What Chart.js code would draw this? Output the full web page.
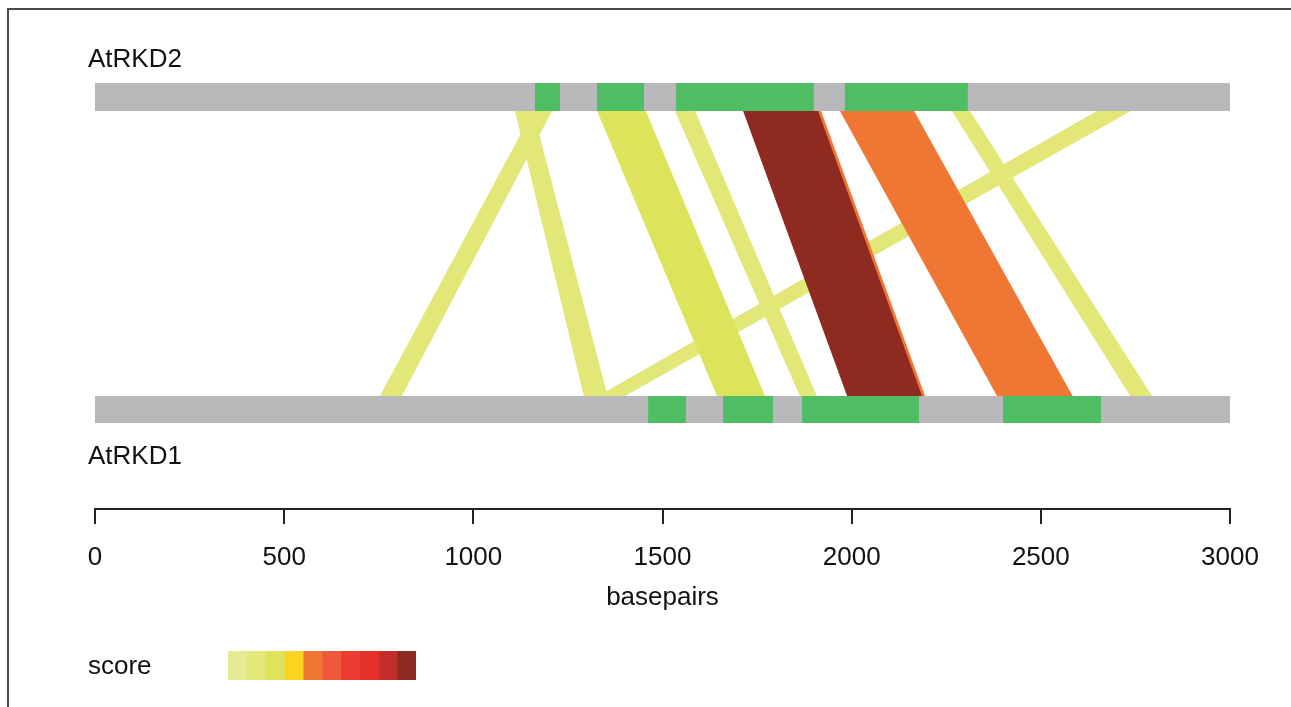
<!DOCTYPE html>
<html>
<head>
<meta charset="utf-8">
<script src="https://cdn.jsdelivr.net/npm/chart.js@4/dist/chart.umd.min.js"></script>
<style>
  body { margin: 0; background: #fff; }
  #wrap { position: relative; width: 1291px; height: 707px; overflow: hidden; background: #fff;
          font-family: "Liberation Sans", Arial, sans-serif; color: #111; }
  #frame { position: absolute; left: 7px; top: 8px; width: 1400px; height: 800px;
           border-left: 2px solid #4a4a4a; border-top: 2px solid #4a4a4a; }
  .lbl { position: absolute; font-size: 26px; line-height: 26px; white-space: nowrap; }
  #main { position: absolute; left: 0; top: 0; }
  #scale { position: absolute; left: 228px; top: 651px; }
</style>
</head>
<body>
<div id="wrap">
  <div id="frame"></div>
  <canvas id="main" width="1291" height="707"></canvas>
  <div class="lbl" id="nameTop" style="left:88px; top:45px;"></div>
  <div class="lbl" id="nameBottom" style="left:88px; top:442px;"></div>
  <div class="lbl" style="left:88px; top:652px;">score</div>
  <canvas id="scale" width="188" height="29"></canvas>
</div>
<script>
// sequences
const trackNames = ['AtRKD2', 'AtRKD1'];
const trackLength = 3000;
const xTicks = [0, 500, 1000, 1500, 2000, 2500, 3000];

// green blocks on each sequence (bp)
const topBlockStart = [1163, 1327, 1536, 1982];
const topBlockEnd = [1229, 1451, 1900, 2307];
const bottomBlockStart = [1462, 1660, 1869, 2400];
const bottomBlockEnd = [1562, 1792, 2178, 2659];

// matches between AtRKD2 (top) and AtRKD1 (bottom), drawn in this order
const bandTopStart = [2648, 1158, 1110, 1533, 1327, 2265, 1895, 1713, 1969];
const bandTopEnd = [2738, 1208, 1158, 1586, 1456, 2313, 1919, 1911, 2165];
const bandBottomStart = [1330, 753, 1292, 1863, 1644, 2736, 2167, 1988, 2384];
const bandBottomEnd = [1401, 811, 1355, 1908, 1771, 2794, 2194, 2186, 2584];
const bandScore = [1, 1, 1, 1, 2, 1, 4, 9, 4];

// colour scale
const scoreLevels = [0, 1, 2, 3, 4, 5, 6, 7, 8, 9];
const scoreColors = ['#e6eb93', '#e2e777', '#dee35c', '#fbd41e', '#f07733',
                     '#ee5a39', '#ec3b2f', '#e52f2a', '#c32f28', '#8f2a21'];

// vertical layout (hidden y scale, 0..100)
const topTrack = [79.6, 85.2];
const bottomTrack = [17.2, 22.6];

document.getElementById('nameTop').textContent = trackNames[0];
document.getElementById('nameBottom').textContent = trackNames[1];

function rect(x1, x2, y) {
    return [{x: x1, y: y[0]}, {x: x2, y: y[0]}, {x: x2, y: y[1]}, {x: x1, y: y[1]}];
}

function shape(points, color) {
    return {
        data: points,
        showLine: true,
        fill: 'shape',
        backgroundColor: color,
        borderWidth: 0,
        pointRadius: 0,
        pointHoverRadius: 0
    };
}

// build polygons, first in list = bottom layer
const layers = [];
bandTopStart.forEach((t1, i) => {
    const pts = [
        {x: t1, y: topTrack[0]},
        {x: bandTopEnd[i], y: topTrack[0]},
        {x: bandBottomEnd[i], y: bottomTrack[1]},
        {x: bandBottomStart[i], y: bottomTrack[1]}
    ];
    layers.push(shape(pts, scoreColors[bandScore[i]]));
});
layers.push(shape(rect(0, trackLength, topTrack), '#b8b8ba'));
layers.push(shape(rect(0, trackLength, bottomTrack), '#b8b8ba'));
topBlockStart.forEach((s, i) => layers.push(shape(rect(s, topBlockEnd[i], topTrack), '#4fbd64')));
bottomBlockStart.forEach((s, i) => layers.push(shape(rect(s, bottomBlockEnd[i], bottomTrack), '#4fbd64')));
// chart.js draws the first dataset on top
layers.forEach((d, i) => { d.order = layers.length - i; });

new Chart(document.getElementById('main'), {
    type: 'scatter',
    data: { datasets: layers },
    options: {
        responsive: false,
        animation: false,
        layout: { padding: { left: 95, right: 61, top: 9, bottom: 94 } },
        plugins: { legend: { display: false }, tooltip: { enabled: false } },
        scales: {
            x: {
                type: 'linear',
                min: 0,
                max: trackLength,
                afterBuildTicks: axis => { axis.ticks = xTicks.map(v => ({ value: v })); },
                afterFit: axis => { axis.height = 104; },
                grid: { drawOnChartArea: false, drawTicks: true, tickLength: 15, color: '#222', lineWidth: 2 },
                border: { display: true, color: '#222', width: 2 },
                ticks: {
                    padding: 18,
                    color: '#111',
                    font: { family: 'Liberation Sans', size: 26 },
                    callback: v => String(v)
                },
                title: {
                    display: true,
                    text: 'basepairs',
                    color: '#111',
                    padding: { top: 0, bottom: 0 },
                    font: { family: 'Liberation Sans', size: 26 }
                }
            },
            y: { type: 'linear', min: 0, max: 100, display: false }
        }
    }
});

// colour key
new Chart(document.getElementById('scale'), {
    type: 'bar',
    data: {
        labels: ['score'],
        datasets: scoreLevels.map(l => ({
            data: [1],
            backgroundColor: scoreColors[l],
            borderWidth: 0,
            barPercentage: 1,
            categoryPercentage: 1
        }))
    },
    options: {
        indexAxis: 'y',
        responsive: false,
        animation: false,
        layout: { padding: 0 },
        plugins: { legend: { display: false }, tooltip: { enabled: false } },
        scales: {
            x: { stacked: true, min: 0, max: scoreLevels.length, display: false },
            y: { stacked: true, display: false }
        }
    }
});
</script>
</body>
</html>
